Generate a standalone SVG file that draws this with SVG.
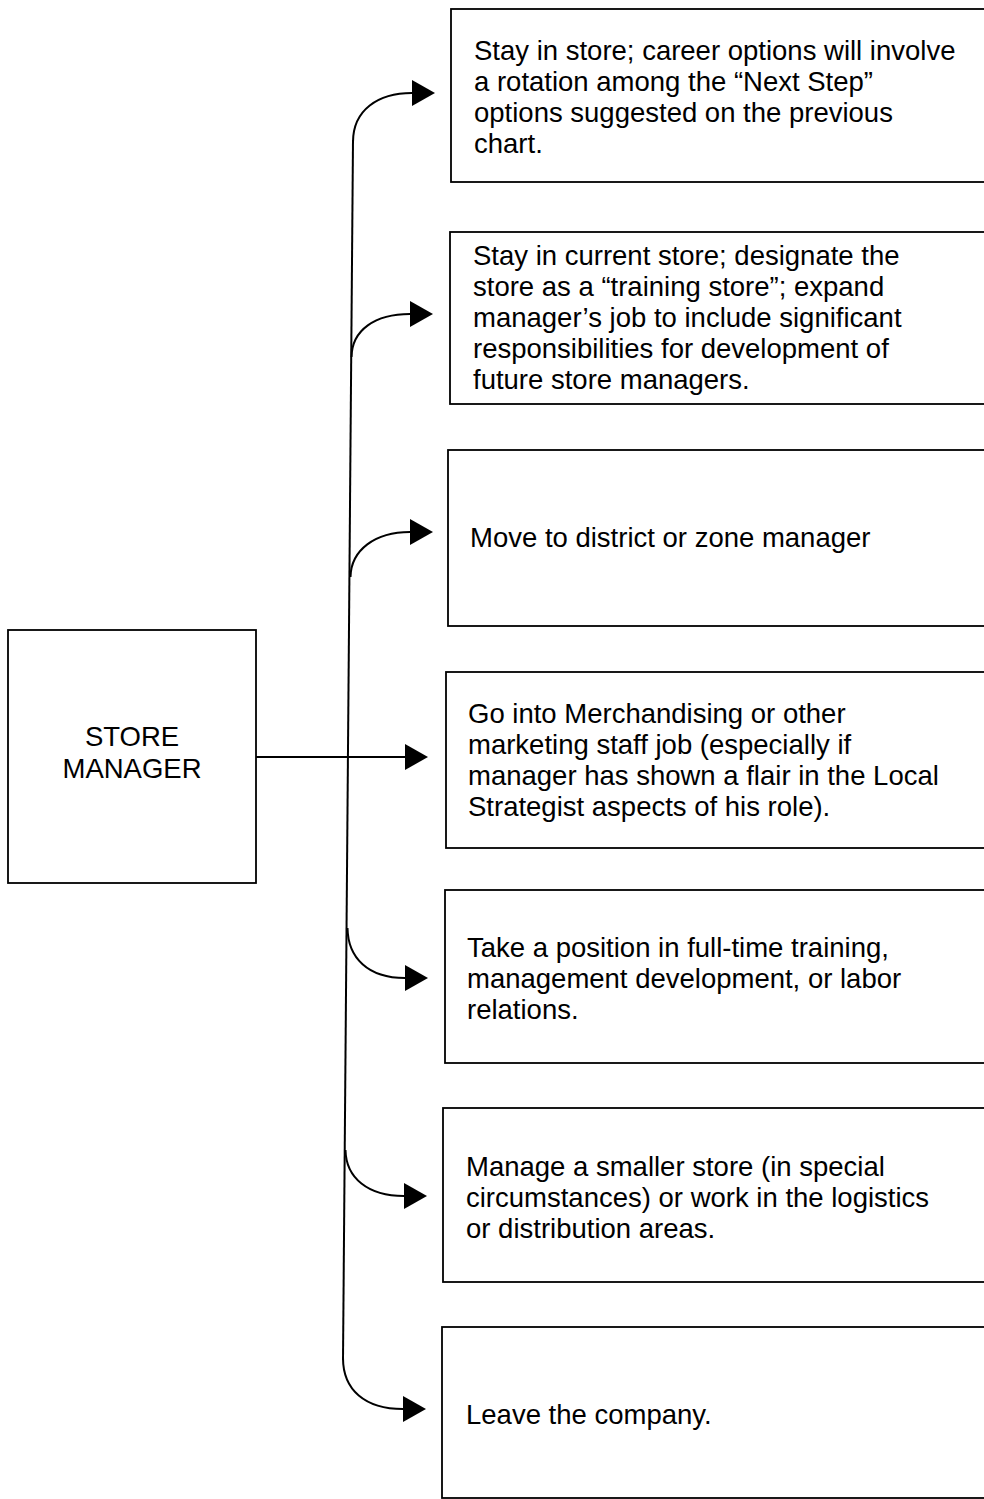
<svg xmlns="http://www.w3.org/2000/svg" width="984" height="1499" viewBox="0 0 984 1499">
<defs>
<style>
.box{fill:#fff;stroke:#000;stroke-width:1.8}
.t{font-family:"Liberation Sans",Arial,sans-serif;font-size:27.5px;fill:#000}
.c{fill:none;stroke:#000;stroke-width:2}
</style>
<marker id="ah" viewBox="0 0 23 26" refX="0" refY="13" markerWidth="23" markerHeight="26" markerUnits="userSpaceOnUse" orient="auto">
<path d="M0,0 L23,13 L0,26 Z" fill="#000"/>
</marker>
</defs>
<rect width="984" height="1499" fill="#fff"/>
<g id="connectors">
<path class="c" d="M353 140 L343 1360"/>
<path class="c" d="M353 142 C353 110 378 93 412 93" marker-end="url(#ah)"/>
<path class="c" d="M351.5 357 C352 330 375 314 410 314" marker-end="url(#ah)"/>
<path class="c" d="M350.5 577 C351 550 375 532 410 532" marker-end="url(#ah)"/>
<path class="c" d="M256 757 L405 757" marker-end="url(#ah)"/>
<path class="c" d="M347.5 928 C348 958 368 978 405 978" marker-end="url(#ah)"/>
<path class="c" d="M345.5 1150 C346 1178 368 1196 404 1196" marker-end="url(#ah)"/>
<path class="c" d="M343 1358 C343 1390 365 1409 403 1409" marker-end="url(#ah)"/>
</g>
<g id="store-manager">
<rect class="box" x="8" y="630" width="248" height="253"/>
<text class="t" x="132" y="746" text-anchor="middle">STORE</text>
<text class="t" x="132" y="778" text-anchor="middle">MANAGER</text>
</g>
<g id="opt1">
<rect class="box" x="451" y="9" width="545" height="173"/>
<text class="t" x="474" y="60">Stay in store; career options will involve</text>
<text class="t" x="474" y="91">a rotation among the “Next Step”</text>
<text class="t" x="474" y="122">options suggested on the previous</text>
<text class="t" x="474" y="153">chart.</text>
</g>
<g id="opt2">
<rect class="box" x="450" y="232" width="546" height="172"/>
<text class="t" x="473" y="265">Stay in current store; designate the</text>
<text class="t" x="473" y="296">store as a “training store”; expand</text>
<text class="t" x="473" y="327">manager’s job to include significant</text>
<text class="t" x="473" y="358">responsibilities for development of</text>
<text class="t" x="473" y="389">future store managers.</text>
</g>
<g id="opt3">
<rect class="box" x="448" y="450" width="548" height="176"/>
<text class="t" x="470" y="547">Move to district or zone manager</text>
</g>
<g id="opt4">
<rect class="box" x="446" y="672" width="550" height="176"/>
<text class="t" x="468" y="723">Go into Merchandising or other</text>
<text class="t" x="468" y="754">marketing staff job (especially if</text>
<text class="t" x="468" y="785">manager has shown a flair in the Local</text>
<text class="t" x="468" y="816">Strategist aspects of his role).</text>
</g>
<g id="opt5">
<rect class="box" x="445" y="890" width="551" height="173"/>
<text class="t" x="467" y="957">Take a position in full-time training,</text>
<text class="t" x="467" y="988">management development, or labor</text>
<text class="t" x="467" y="1019">relations.</text>
</g>
<g id="opt6">
<rect class="box" x="443" y="1108" width="553" height="174"/>
<text class="t" x="466" y="1176">Manage a smaller store (in special</text>
<text class="t" x="466" y="1207">circumstances) or work in the logistics</text>
<text class="t" x="466" y="1238">or distribution areas.</text>
</g>
<g id="opt7">
<rect class="box" x="442" y="1327" width="554" height="171"/>
<text class="t" x="466" y="1424">Leave the company.</text>
</g>
</svg>
